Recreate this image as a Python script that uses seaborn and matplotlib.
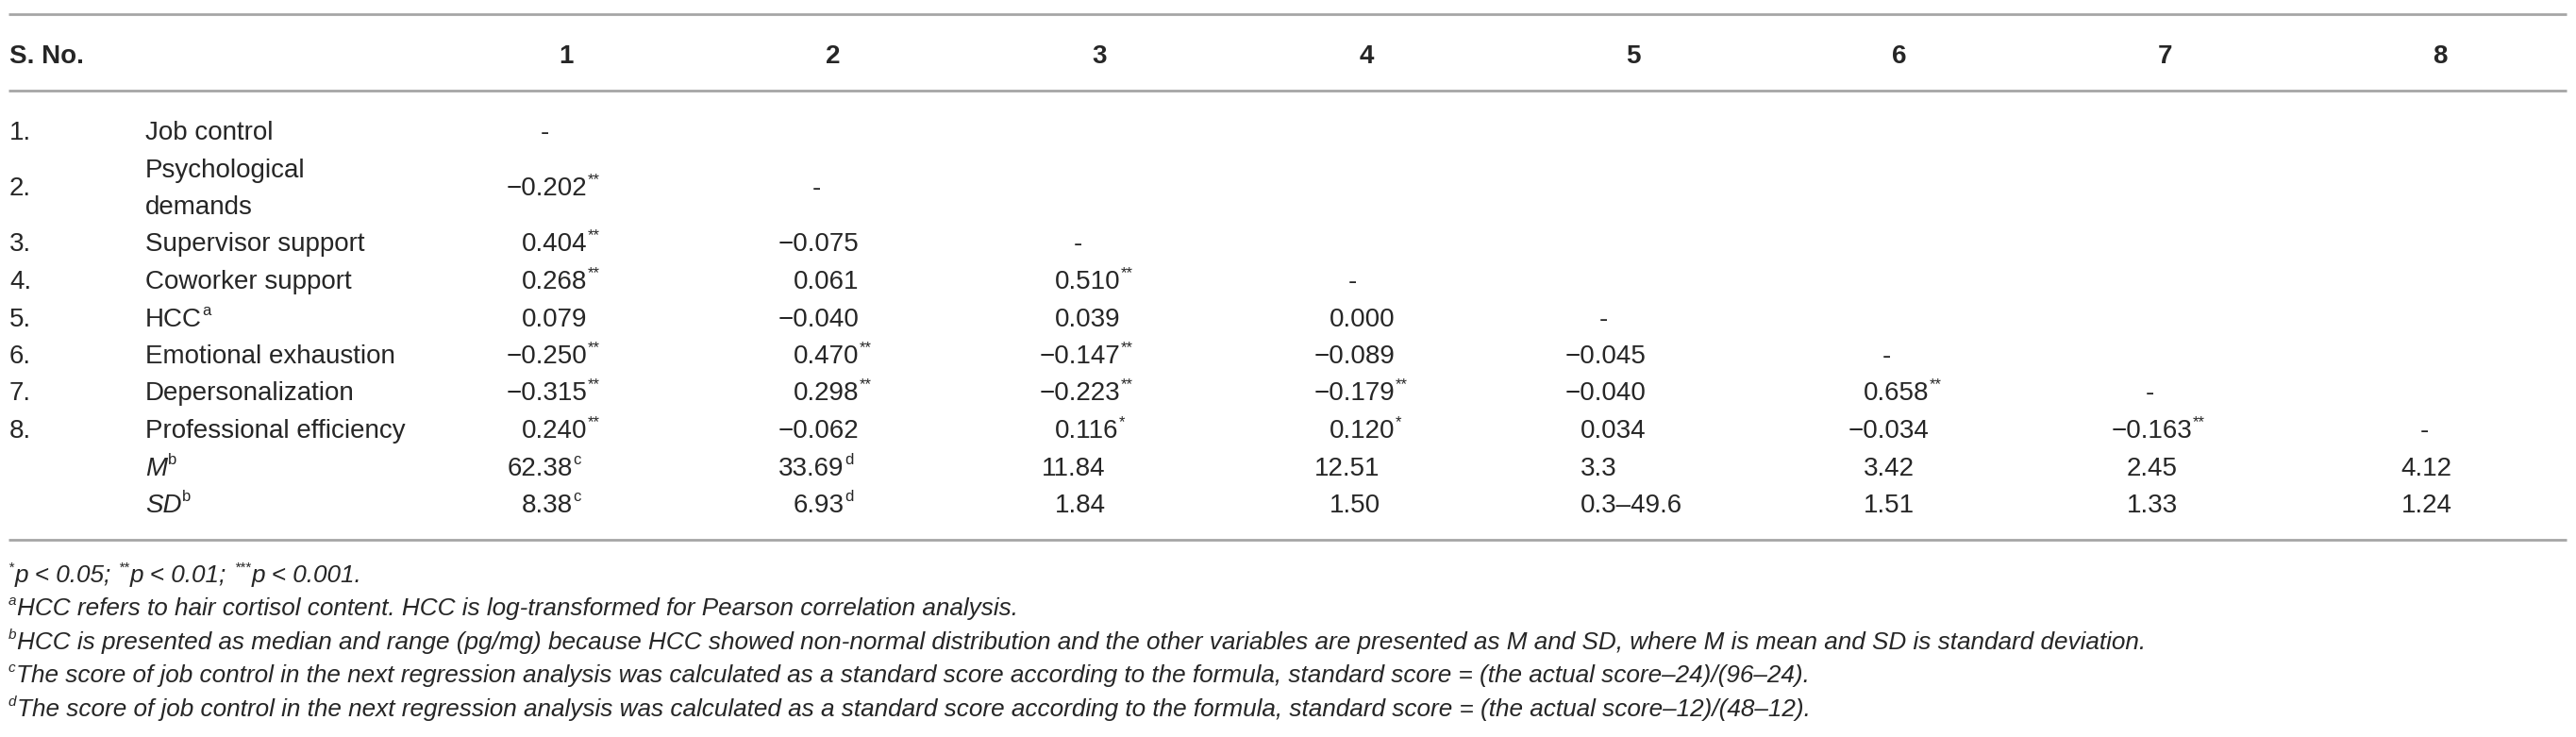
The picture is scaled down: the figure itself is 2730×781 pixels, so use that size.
import matplotlib
matplotlib.use("Agg")
import matplotlib.pyplot as plt
import seaborn as sns

sns.set_theme(style="white")
plt.rcParams['font.family'] = ['Liberation Sans', 'DejaVu Sans']

# ---------------- data ----------------
col_heads = ["1", "2", "3", "4", "5", "6", "7", "8"]
row_nums = ["1.", "2.", "3.", "4.", "5.", "6.", "7.", "8."]
var_names = ["Job control", "Psychological\ndemands", "Supervisor support", "Coworker support",
             "HCC", "Emotional exhaustion", "Depersonalization", "Professional efficiency"]
var_marks = ["", "", "", "", "a", "", "", ""]

# lower triangle of correlations (diagonal is "-")
corr = [
    [],
    [-0.202],
    [0.404, -0.075],
    [0.268, 0.061, 0.510],
    [0.079, -0.040, 0.039, 0.000],
    [-0.250, 0.470, -0.147, -0.089, -0.045],
    [-0.315, 0.298, -0.223, -0.179, -0.040, 0.658],
    [0.240, -0.062, 0.116, 0.120, 0.034, -0.034, -0.163],
]
stars = [
    [],
    ["**"],
    ["**", ""],
    ["**", "", "**"],
    ["", "", "", ""],
    ["**", "**", "**", "", ""],
    ["**", "**", "**", "**", "", "**"],
    ["**", "", "*", "*", "", "", "**"],
]
means = ["62.38", "33.69", "11.84", "12.51", "3.3", "3.42", "2.45", "4.12"]
sds = ["8.38", "6.93", "1.84", "1.50", "0.3–49.6", "1.51", "1.33", "1.24"]
stat_marks = ["c", "d", "", "", "", "", "", ""]

notes = [
    [("*", "sup"), ("p < 0.05;", "i"), (" **", "sup"), ("p < 0.01;", "i"), (" ***", "sup"), ("p < 0.001.", "i")],
    [("a", "sup"), ("HCC refers to hair cortisol content. HCC is log-transformed for Pearson correlation analysis.", "i")],
    [("b", "sup"), ("HCC is presented as median and range (pg/mg) because HCC showed non-normal distribution and "
                    "the other variables are presented as M and SD, where M is mean and SD is standard deviation.", "i")],
    [("c", "sup"), ("The score of job control in the next regression analysis was calculated as a standard score "
                    "according to the formula, standard score = (the actual score–24)/(96–24).", "i")],
    [("d", "sup"), ("The score of job control in the next regression analysis was calculated as a standard score "
                    "according to the formula, standard score = (the actual score–12)/(48–12).", "i")],
]

# ---------------- layout (pixels) ----------------
W, H = 2730, 781
INK = '#262626'
RULE = '#a6a6a6'
FS, FS_SUP = 20, 12
FS_NOTE, FS_NOTE_SUP = 18.8, 11

head_x = [600, 883, 1165, 1448, 1731, 2013, 2295, 2586]
dec_x = [572, 860, 1137, 1428, 1694, 1994, 2273, 2564]
x_num, x_lab = 10, 154
y_head = 57
pitch = 39.5
row_y = [138, 197.25, 256.5]
for _ in range(7):
    row_y.append(row_y[-1] + pitch)
rules_y = [15, 96, 572]
note_y = [608, 643, 679, 714, 750]

fig = plt.figure(figsize=(W / 100, H / 100), dpi=100)
ax = fig.add_axes([0, 0, 1, 1])
ax.set_xlim(0, W)
ax.set_ylim(H, 0)
ax.axis('off')
sns.despine(ax=ax, left=True, bottom=True)
R = fig.canvas.get_renderer()


def pxs(pt):
    return pt * 100 / 72


def base(yc, size):
    # baseline from the centre of cap height
    return yc + 0.36 * pxs(size)


def width(s, size, style='normal'):
    t = ax.text(0, 0, s, fontsize=size, style=style)
    w = t.get_window_extent(R).width
    t.remove()
    return w


def chain(x, yc, parts, size, sup_size, style='normal'):
    yb = base(yc, size)
    cur = x
    for txt, kind in parts:
        lead = len(txt) - len(txt.lstrip(' '))
        txt = txt.strip(' ')
        cur += lead * 0.278 * pxs(size)
        if kind == 'sup':
            x0 = cur - 1.5
            t = ax.text(x0, yb - 0.43 * pxs(size), txt, fontsize=sup_size, color=INK,
                        style=style, ha='left', va='baseline')
            cur = x0 + t.get_window_extent(R).width + 1
        else:
            st = 'italic' if kind == 'i' else style
            t = ax.text(cur, yb, txt, fontsize=size, color=INK, style=st, ha='left', va='baseline')
            cur = cur + t.get_window_extent(R).width + 2
    return cur


def value(ci, yc, s, mark=""):
    yb = base(yc, FS)
    xd = dec_x[ci]
    if s == "-":
        ax.text(xd + 5, yb, "-", fontsize=FS, color=INK, ha='center', va='baseline')
        return
    ip = s.split('.', 1)[0]
    # whole string placed so that its decimal point sits at xd
    x0 = xd - width(ip + ".", FS) + width(".", FS) * 0.5
    parts = [(s, "n")]
    if mark:
        parts.append((mark, "sup"))
    chain(x0, yc, parts, FS, FS_SUP)


def fmt(v):
    return f"{v:.3f}".replace("-", "\u2212")


# rules
ax.hlines(rules_y, 9, 2720, color=RULE, lw=2)

# header
ax.text(x_num, base(y_head, FS), "S. No.", fontsize=FS, weight='bold', color=INK, va='baseline')
for hx, h in zip(head_x, col_heads):
    ax.text(hx, base(y_head, FS), h, fontsize=FS, weight='bold', color=INK, ha='center', va='baseline')

# body
for i in range(8):
    yc = row_y[i]
    ax.text(x_num, base(yc, FS), row_nums[i], fontsize=FS, color=INK, va='baseline')
    lines = var_names[i].split("\n")
    for k, ln in enumerate(lines):
        yl = yc + (k - (len(lines) - 1) / 2) * pitch
        parts = [(ln, "n")]
        if k == len(lines) - 1 and var_marks[i]:
            parts.append((var_marks[i], "sup"))
        chain(x_lab, yl, parts, FS, FS_SUP)
    for j in range(i):
        value(j, yc, fmt(corr[i][j]), stars[i][j])
    value(i, yc, "-")

# M and SD rows
for lab, vals, yc in [("M", means, row_y[8]), ("SD", sds, row_y[9])]:
    chain(x_lab, yc, [(lab, "i"), ("b", "sup")], FS, FS_SUP)
    for j, s in enumerate(vals):
        value(j, yc, s, stat_marks[j])

# footnotes
for parts, yc in zip(notes, note_y):
    chain(x_num, yc, parts, FS_NOTE, FS_NOTE_SUP, style='italic')

fig.savefig("out.png", dpi=100)
